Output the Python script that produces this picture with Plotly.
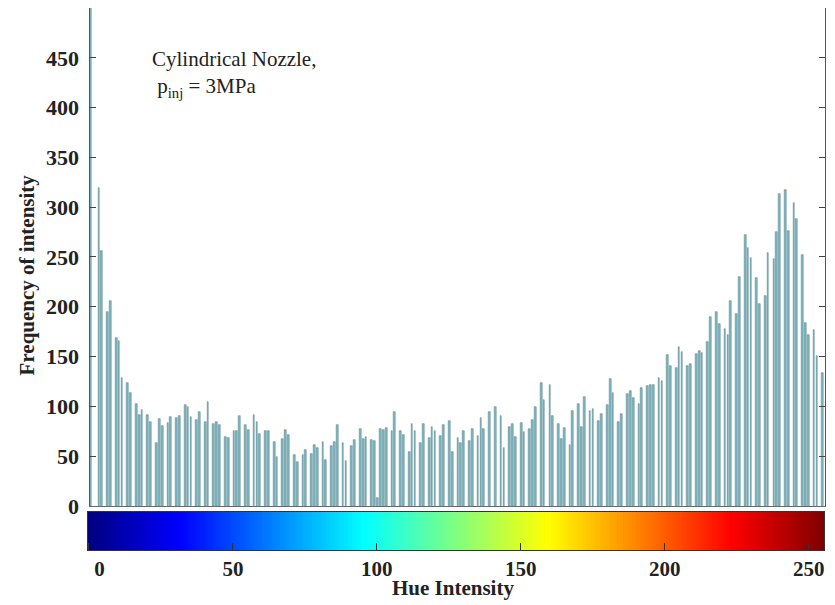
import plotly.graph_objects as go

# ---- data ----
hue_bins = [0, 3, 4, 6, 7, 9, 10, 11, 13, 14, 16, 17, 18, 20, 21, 23, 24, 25, 27, 28,
            30, 31, 33, 34, 35, 37, 38, 40, 41, 43, 44, 45, 47, 48, 50, 51, 52, 54, 55, 57,
            58, 59, 61, 62, 64, 65, 67, 68, 69, 71, 72, 74, 75, 77, 78, 79, 81, 82, 84, 85,
            86, 88, 89, 91, 92, 94, 95, 96, 98, 99, 100, 101, 102, 103, 105, 106, 108, 109, 111, 112,
            113, 115, 116, 118, 119, 120, 122, 123, 125, 126, 128, 129, 130, 132, 133, 135, 136, 137, 139, 141,
            143, 144, 146, 147, 148, 150, 151, 153, 154, 155, 157, 158, 160, 161, 163, 164, 165, 167, 168, 170,
            171, 172, 174, 175, 177, 178, 180, 181, 182, 184, 185, 187, 188, 189, 191, 192, 194, 195, 196, 198,
            199, 201, 202, 204, 205, 206, 208, 209, 211, 212, 213, 215, 216, 218, 219, 221, 222, 223, 225, 226,
            228, 229, 230, 232, 233, 235, 236, 238, 239, 240, 242, 243, 245, 246, 248, 249, 250, 252, 253, 255]
counts = [600, 319, 256, 195, 206, 169, 166, 129, 123, 113, 102, 91, 96, 91, 84, 63, 87, 80, 83, 89,
          88, 90, 101, 99, 89, 86, 94, 84, 104, 82, 84, 81, 69, 68, 75, 75, 90, 81, 76, 91,
          84, 72, 75, 75, 64, 49, 67, 76, 71, 51, 44, 51, 56, 52, 61, 58, 64, 46, 60, 64,
          81, 63, 45, 60, 66, 77, 67, 69, 66, 65, 8, 77, 76, 78, 75, 94, 75, 71, 54, 82,
          75, 63, 82, 68, 79, 75, 70, 81, 85, 54, 68, 63, 75, 65, 77, 70, 88, 77, 94, 99,
          90, 58, 79, 82, 69, 83, 74, 77, 86, 99, 123, 106, 121, 90, 82, 67, 78, 61, 95, 102,
          79, 109, 95, 97, 85, 92, 101, 128, 113, 84, 92, 112, 115, 108, 102, 118, 120, 121, 121, 129,
          125, 152, 141, 139, 160, 155, 141, 143, 153, 156, 154, 165, 190, 195, 183, 178, 172, 206, 193, 230,
          272, 259, 249, 229, 203, 211, 254, 248, 275, 313, 317, 276, 304, 288, 252, 184, 172, 177, 151, 134]

cbar_values = list(range(256))
cbar_ticks = [0, 50, 100, 150, 200, 250]
cbar_ticktext = ["\u00a0\u00a0\u00a0\u00a00", "50", "100", "150", "200", "250"]
y_ticks = [0, 50, 100, 150, 200, 250, 300, 350, 400, 450]

jet = [[0.0, "rgb(0,0,128)"], [0.125, "rgb(0,0,255)"], [0.375, "rgb(0,255,255)"],
       [0.625, "rgb(255,255,0)"], [0.875, "rgb(255,0,0)"], [1.0, "rgb(128,0,0)"]]

SERIF = "Liberation Serif"
TXT = "#222222"

fig = go.Figure()
fig.add_trace(go.Bar(
    x=hue_bins, y=counts, width=0.6,
    marker=dict(color="#80b6c0", line=dict(color="#5e8e98", width=0.6)),
    xaxis="x", yaxis="y", showlegend=False))
fig.add_trace(go.Heatmap(
    z=[cbar_values], x=cbar_values, y=[0], colorscale=jet, showscale=False,
    xaxis="x2", yaxis="y2", hoverinfo="skip"))

fig.update_layout(
    width=827, height=597,
    margin=dict(l=79, r=10, t=0, b=55),
    paper_bgcolor="white", plot_bgcolor="white",
    bargap=0,
    xaxis=dict(domain=[0.0034, 1.0], range=[-0.3, 255.8], anchor="y",
               showticklabels=False, ticks="", showgrid=False, zeroline=False,
               showline=True, mirror=True, linecolor="#666666", linewidth=1),
    yaxis=dict(domain=[0.0812, 1.0], range=[0, 500], anchor="x",
               tickvals=y_ticks, ticks="inside", ticklen=6, tickcolor="#444444",
               showgrid=False, zeroline=False,
               showline=True, mirror="ticks", linecolor="#555555", linewidth=1,
               ticklabelstandoff=5,
               tickfont=dict(family=SERIF, size=22, color=TXT, weight="bold")),
    xaxis2=dict(domain=[0.0007, 0.9993], range=[-0.5, 255.5], anchor="y2",
                tickvals=cbar_ticks, ticktext=cbar_ticktext,
                ticks="inside", ticklen=7, tickcolor="#333333",
                showgrid=False, zeroline=False,
                showline=True, mirror=True, linecolor="#333333", linewidth=1,
                tickfont=dict(family=SERIF, size=21, color=TXT, weight="bold")),
    yaxis2=dict(domain=[0.0, 0.0701], range=[-0.5, 0.5], anchor="x2",
                showticklabels=False, ticks="", showgrid=False, zeroline=False,
                showline=True, mirror=True, linecolor="#333333", linewidth=1),
    annotations=[
        dict(text="Cylindrical Nozzle,<br> p<sub>inj</sub> = 3MPa",
             xref="paper", yref="paper", x=0.086, y=0.931,
             xanchor="left", yanchor="top", align="left", showarrow=False,
             font=dict(family=SERIF, size=21, color=TXT)),
        dict(text="Frequency of intensity", textangle=-90,
             xref="paper", yref="paper", x=-0.081, y=0.507,
             xanchor="center", yanchor="middle", showarrow=False,
             font=dict(family=SERIF, size=21, color=TXT, weight="bold")),
        dict(text="Hue Intensity",
             xref="paper", yref="paper", x=0.4959, y=-0.071,
             xanchor="center", yanchor="middle", showarrow=False,
             font=dict(family=SERIF, size=21, color=TXT, weight="bold")),
    ],
)

fig.write_html("out.html")
